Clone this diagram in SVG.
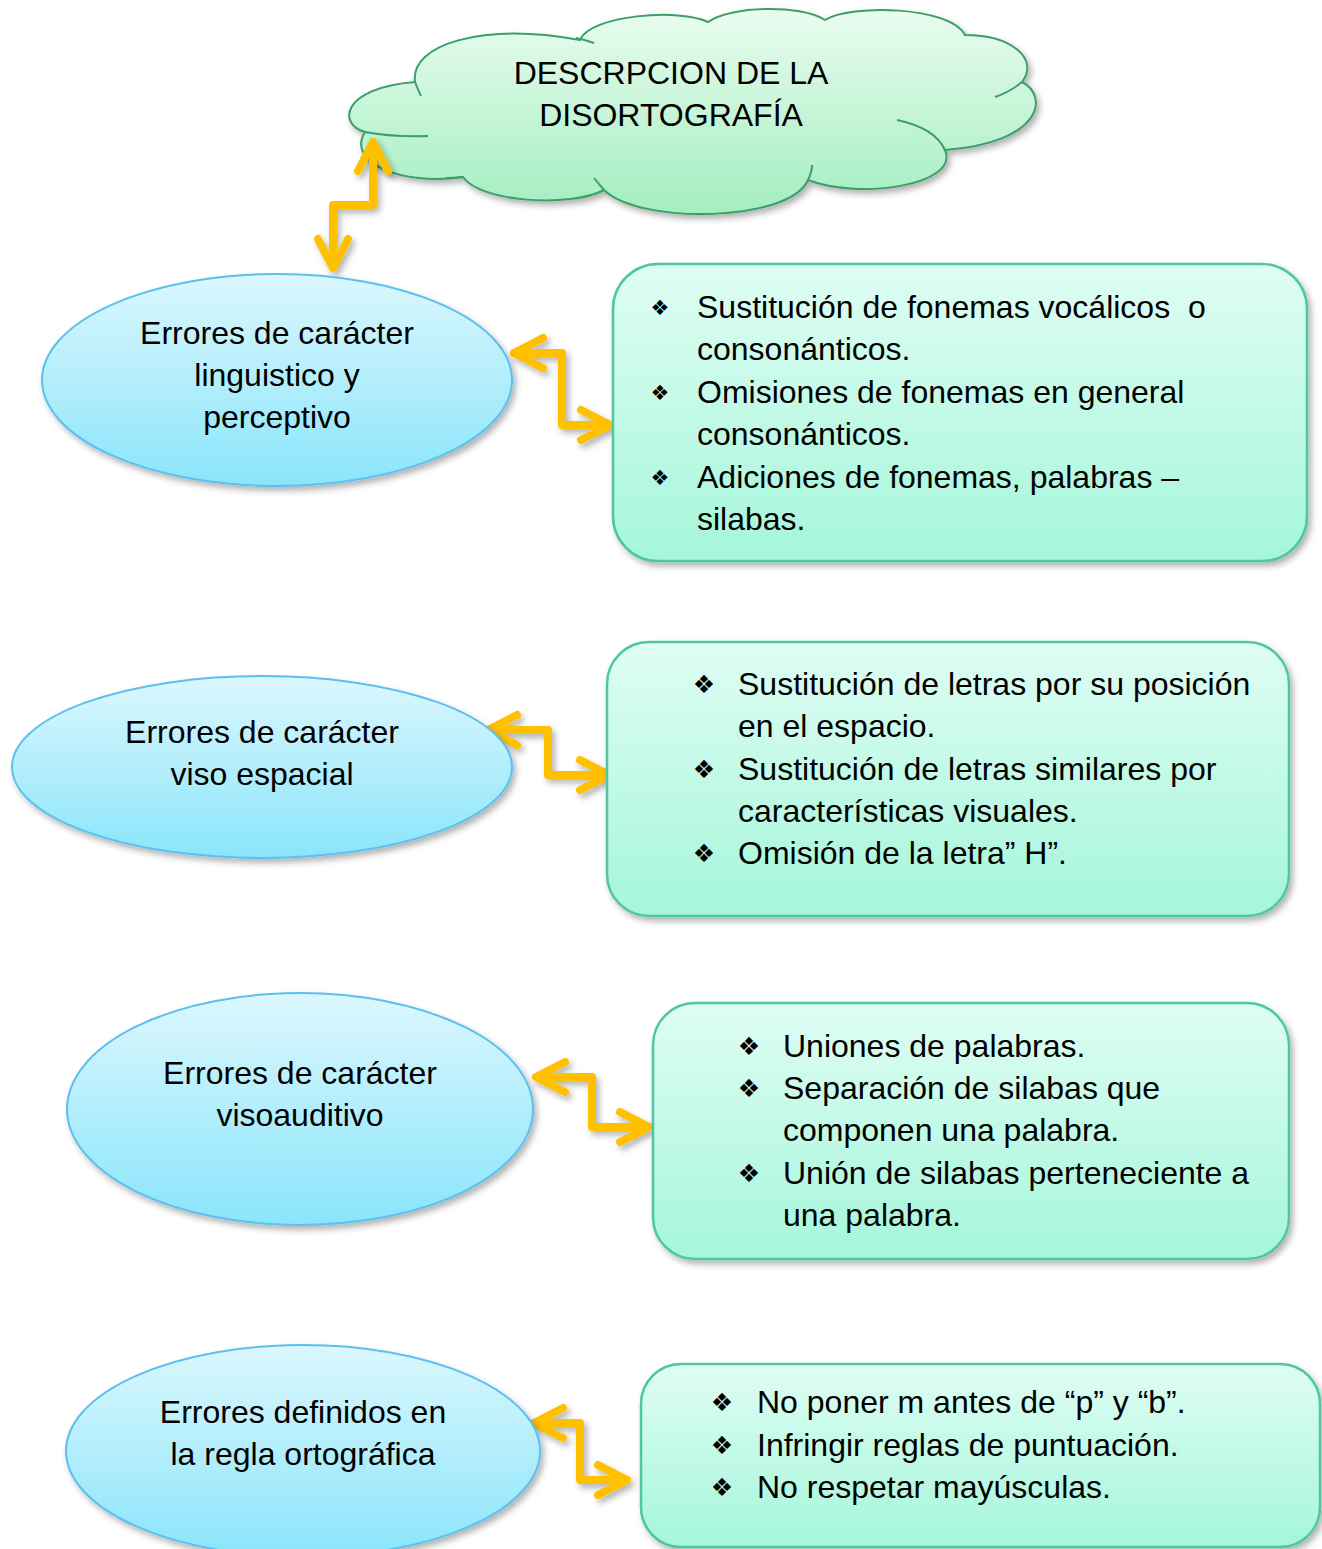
<svg xmlns="http://www.w3.org/2000/svg" width="1322" height="1549" viewBox="0 0 1322 1549">
<style>
.t{font-family:"Liberation Sans",Arial,sans-serif;font-size:32px;fill:#000;white-space:pre}
.c{text-anchor:middle}
.b{font-family:"DejaVu Sans",sans-serif;fill:#000;text-anchor:middle;dominant-baseline:central}
.ell{fill:url(#gE);stroke:#5cc0ee;stroke-width:2;filter:url(#sh)}
.box{fill:url(#gB);stroke:#4fc6a3;stroke-width:2.5;filter:url(#sh)}
.arr path{fill:none;stroke:#FFC000;stroke-width:8;stroke-linejoin:round;stroke-linecap:round}
.tail{fill:none;stroke:#3a9f68;stroke-width:2}
</style>
<defs>
<linearGradient id="gE" x1="0" y1="0" x2="0" y2="1"><stop offset="0" stop-color="#dcf7fd"/><stop offset="1" stop-color="#8ae5fb"/></linearGradient>
<linearGradient id="gB" x1="0" y1="0" x2="0" y2="1"><stop offset="0" stop-color="#dffdf4"/><stop offset="1" stop-color="#a5f6da"/></linearGradient>
<linearGradient id="gC" x1="0" y1="0" x2="0" y2="1"><stop offset="0" stop-color="#eafcf0"/><stop offset="1" stop-color="#a3eebf"/></linearGradient>
<filter id="sh" x="-10%" y="-10%" width="125%" height="130%"><feDropShadow dx="3" dy="4" stdDeviation="3" flood-color="#000" flood-opacity="0.3"/></filter>
</defs>

<g id="cloud">
<path d="M365,132 C338,125 340,88 415,82 C410,45 480,22 580,40 C590,15 680,8 708,22 C730,6 800,4 825,20 C850,4 950,6 965,35 C1010,35 1040,58 1022,82 C1048,95 1045,142 945,150 C960,185 860,200 808,180 C790,222 640,225 604,190 C570,208 480,202 463,177 C400,186 346,162 365,132 Z" fill="url(#gC)" stroke="#3a9f68" stroke-width="2" filter="url(#sh)"/>
<path class="tail" d="M365,132 Q390,137 428,136 M576,38 Q586,40 594,43 M1022,82 Q1010,92 995,97 M945,150 Q935,128 897,120 M808,180 Q812,172 812,165 M604,190 Q598,183 594,178 M463,177 Q455,178 446,178 M415,82 Q418,90 421,96"/>
<text class="t c" x="671" y="84">DESCRPCION DE LA</text>
<text class="t c" x="671" y="126">DISORTOGRAFÍA</text>
</g>

<g id="connectors" class="arr" filter="url(#sh)">
<path d="M373,142 V205 H333 V268 M358,171 L373,142 L388,171 M318,239 L333,268 L348,239"/>
<path d="M514,353 H562 V425 H610 M543,338 L514,353 L543,368 M581,410 L610,425 L581,440"/>
<path d="M488,730 H548 V775 H609 M517,715 L488,730 L517,745 M580,760 L609,775 L580,790"/>
<path d="M536,1077 H592 V1127 H649 M565,1062 L536,1077 L565,1092 M620,1112 L649,1127 L620,1142"/>
<path d="M534,1423 H580 V1480 H627 M563,1408 L534,1423 L563,1438 M598,1465 L627,1480 L598,1495"/>
</g>

<g id="e1">
<ellipse class="ell" cx="277" cy="380" rx="235" ry="106"/>
<text class="t c" x="277" y="344">Errores de carácter</text>
<text class="t c" x="277" y="386">linguistico y</text>
<text class="t c" x="277" y="428">perceptivo</text>
</g>
<g id="b1">
<rect class="box" x="613" y="264" width="694" height="297" rx="45"/>
<text class="b" x="660" y="308" font-size="21">❖</text>
<text class="t" x="697" y="318" xml:space="preserve">Sustitución de fonemas vocálicos  o</text>
<text class="t" x="697" y="360">consonánticos.</text>
<text class="b" x="660" y="393" font-size="21">❖</text>
<text class="t" x="697" y="403">Omisiones de fonemas en general</text>
<text class="t" x="697" y="445">consonánticos.</text>
<text class="b" x="660" y="478" font-size="21">❖</text>
<text class="t" x="697" y="488">Adiciones de fonemas, palabras –</text>
<text class="t" x="697" y="530">silabas.</text>
</g>

<g id="e2">
<ellipse class="ell" cx="262" cy="767" rx="250" ry="91"/>
<text class="t c" x="262" y="743">Errores de carácter</text>
<text class="t c" x="262" y="785">viso espacial</text>
</g>
<g id="b2">
<rect class="box" x="607" y="642" width="682" height="274" rx="42"/>
<text class="b" x="704" y="684" font-size="25">❖</text>
<text class="t" x="738" y="695">Sustitución de letras por su posición</text>
<text class="t" x="738" y="737">en el espacio.</text>
<text class="b" x="704" y="769" font-size="25">❖</text>
<text class="t" x="738" y="780">Sustitución de letras similares por</text>
<text class="t" x="738" y="822">características visuales.</text>
<text class="b" x="704" y="853" font-size="25">❖</text>
<text class="t" x="738" y="864">Omisión de la letra” H”.</text>
</g>

<g id="e3">
<ellipse class="ell" cx="300" cy="1109" rx="233" ry="116"/>
<text class="t c" x="300" y="1084">Errores de carácter</text>
<text class="t c" x="300" y="1126">visoauditivo</text>
</g>
<g id="b3">
<rect class="box" x="653" y="1003" width="636" height="256" rx="42"/>
<text class="b" x="749" y="1046" font-size="25">❖</text>
<text class="t" x="783" y="1057">Uniones de palabras.</text>
<text class="b" x="749" y="1088" font-size="25">❖</text>
<text class="t" x="783" y="1099">Separación de silabas que</text>
<text class="t" x="783" y="1141">componen una palabra.</text>
<text class="b" x="749" y="1173" font-size="25">❖</text>
<text class="t" x="783" y="1184">Unión de silabas perteneciente a</text>
<text class="t" x="783" y="1226">una palabra.</text>
</g>

<g id="e4">
<ellipse class="ell" cx="303" cy="1451" rx="237" ry="106"/>
<text class="t c" x="303" y="1423">Errores definidos en</text>
<text class="t c" x="303" y="1465">la regla ortográfica</text>
</g>
<g id="b4">
<rect class="box" x="641" y="1364" width="679" height="183" rx="40"/>
<text class="b" x="722" y="1402" font-size="25">❖</text>
<text class="t" x="757" y="1413">No poner m antes de “p” y “b”.</text>
<text class="b" x="722" y="1445" font-size="25">❖</text>
<text class="t" x="757" y="1456">Infringir reglas de puntuación.</text>
<text class="b" x="722" y="1487" font-size="25">❖</text>
<text class="t" x="757" y="1498">No respetar mayúsculas.</text>
</g>
</svg>
